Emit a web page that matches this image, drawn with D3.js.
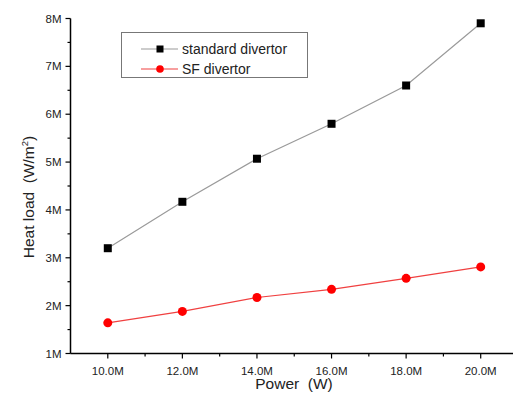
<!DOCTYPE html>
<html><head><meta charset="utf-8">
<script src="https://cdn.jsdelivr.net/npm/d3@7/dist/d3.min.js"></script>
<style>body{margin:0;background:#fff}svg{display:block}text{font-family:"Liberation Sans",Arial,sans-serif}</style>
</head><body>
<script>
const power = [10, 12, 14, 16, 18, 20];            // in M W
const standard = [3.20, 4.17, 5.07, 5.80, 6.60, 7.90]; // M W/m2
const sf = [1.64, 1.88, 2.17, 2.34, 2.57, 2.81];
const xTicks = [10, 12, 14, 16, 18, 20];
const yTicks = [1, 2, 3, 4, 5, 6, 7, 8];
const seriesNames = ["standard divertor", "SF divertor"];

const W = 513, H = 403;
const svg = d3.select("body").append("svg").attr("width", W).attr("height", H);
const x = d3.scaleLinear().domain([9, 21]).range([70.5, 518]);
const y = d3.scaleLinear().domain([1, 8]).range([353.5, 18.5]);

// x axis
const gx = svg.append("g").attr("transform", `translate(0,${y(1)})`);
gx.append("line").attr("x1", x(9)).attr("x2", W).attr("stroke", "#000").attr("stroke-width", 1.5);
gx.selectAll(".maj").data(xTicks).join("line")
  .attr("x1", d => x(d)).attr("x2", d => x(d)).attr("y1", 0).attr("y2", 5).attr("stroke", "#000").attr("stroke-width", 1.2);
gx.selectAll(".min").data(d3.range(11, 21, 2)).join("line")
  .attr("x1", d => x(d)).attr("x2", d => x(d)).attr("y1", 0).attr("y2", 3).attr("stroke", "#000").attr("stroke-width", 1.2);
gx.selectAll("text").data(xTicks).join("text")
  .attr("x", d => x(d)).attr("y", 21).attr("text-anchor", "middle").attr("font-size", 11.5).attr("fill", "#222")
  .text(d => d.toFixed(1) + "M");

// y axis
const gy = svg.append("g").attr("transform", `translate(${x(9)},0)`);
gy.append("line").attr("y1", y(1)).attr("y2", y(8)).attr("stroke", "#000").attr("stroke-width", 1.5);
gy.selectAll(".maj").data(yTicks).join("line")
  .attr("y1", d => y(d)).attr("y2", d => y(d)).attr("x1", 0).attr("x2", -5).attr("stroke", "#000").attr("stroke-width", 1.2);
gy.selectAll(".min").data(yTicks.slice(0, -1).map(d => d + 0.5)).join("line")
  .attr("y1", d => y(d)).attr("y2", d => y(d)).attr("x1", 0).attr("x2", -3).attr("stroke", "#000").attr("stroke-width", 1.2);
gy.selectAll("text").data(yTicks).join("text")
  .attr("x", -9).attr("y", d => y(d) + 4).attr("text-anchor", "end").attr("font-size", 11.5).attr("fill", "#222")
  .text(d => d + "M");

// axis titles
svg.append("text").attr("x", 294).attr("y", 389).attr("text-anchor", "middle").attr("font-size", 15.5).attr("fill", "#222")
  .attr("xml:space", "preserve").text("Power  (W)");
const yt = svg.append("text").attr("transform", "translate(34,197) rotate(-90)").attr("text-anchor", "middle").attr("font-size", 15.5).attr("fill", "#222")
  .attr("xml:space", "preserve");
yt.append("tspan").text("Heat load  (W/m");
yt.append("tspan").attr("font-size", 9.5).attr("dy", -6).text("2");
yt.append("tspan").attr("dy", 6).text(")");

const line = d3.line().x(d => x(d[0])).y(d => y(d[1]));
const sData = power.map((p, i) => [p, standard[i]]);
const fData = power.map((p, i) => [p, sf[i]]);

svg.append("path").datum(sData).attr("d", line).attr("fill", "none").attr("stroke", "#9a9a9a").attr("stroke-width", 1.2);
svg.selectAll(".sq").data(sData).join("rect")
  .attr("x", d => x(d[0]) - 4).attr("y", d => y(d[1]) - 4).attr("width", 8).attr("height", 8).attr("fill", "#000");
svg.append("path").datum(fData).attr("d", line).attr("fill", "none").attr("stroke", "#f04040").attr("stroke-width", 1.2);
svg.selectAll(".ci").data(fData).join("circle")
  .attr("cx", d => x(d[0])).attr("cy", d => y(d[1])).attr("r", 4.5).attr("fill", "#f00");

// legend
const lg = svg.append("g");
lg.append("rect").attr("x", 121.5).attr("y", 32.5).attr("width", 186).attr("height", 45).attr("fill", "#fff").attr("stroke", "#777").attr("stroke-width", 1);
const rows = [{c: "#9a9a9a", m: "sq"}, {c: "#f04040", m: "ci"}];
rows.forEach((r, i) => {
  const yy = 49 + i * 20;
  lg.append("line").attr("x1", 141).attr("x2", 178).attr("y1", yy).attr("y2", yy).attr("stroke", r.c).attr("stroke-width", 1.2);
  if (r.m === "sq") lg.append("rect").attr("x", 156.5).attr("y", yy - 3.5).attr("width", 7).attr("height", 7).attr("fill", "#000");
  else lg.append("circle").attr("cx", 160).attr("cy", yy).attr("r", 3.8).attr("fill", "#f00");
  lg.append("text").attr("x", 182).attr("y", yy + 5).attr("font-size", 14).attr("fill", "#222").text(seriesNames[i]);
});
</script>
</body></html>
